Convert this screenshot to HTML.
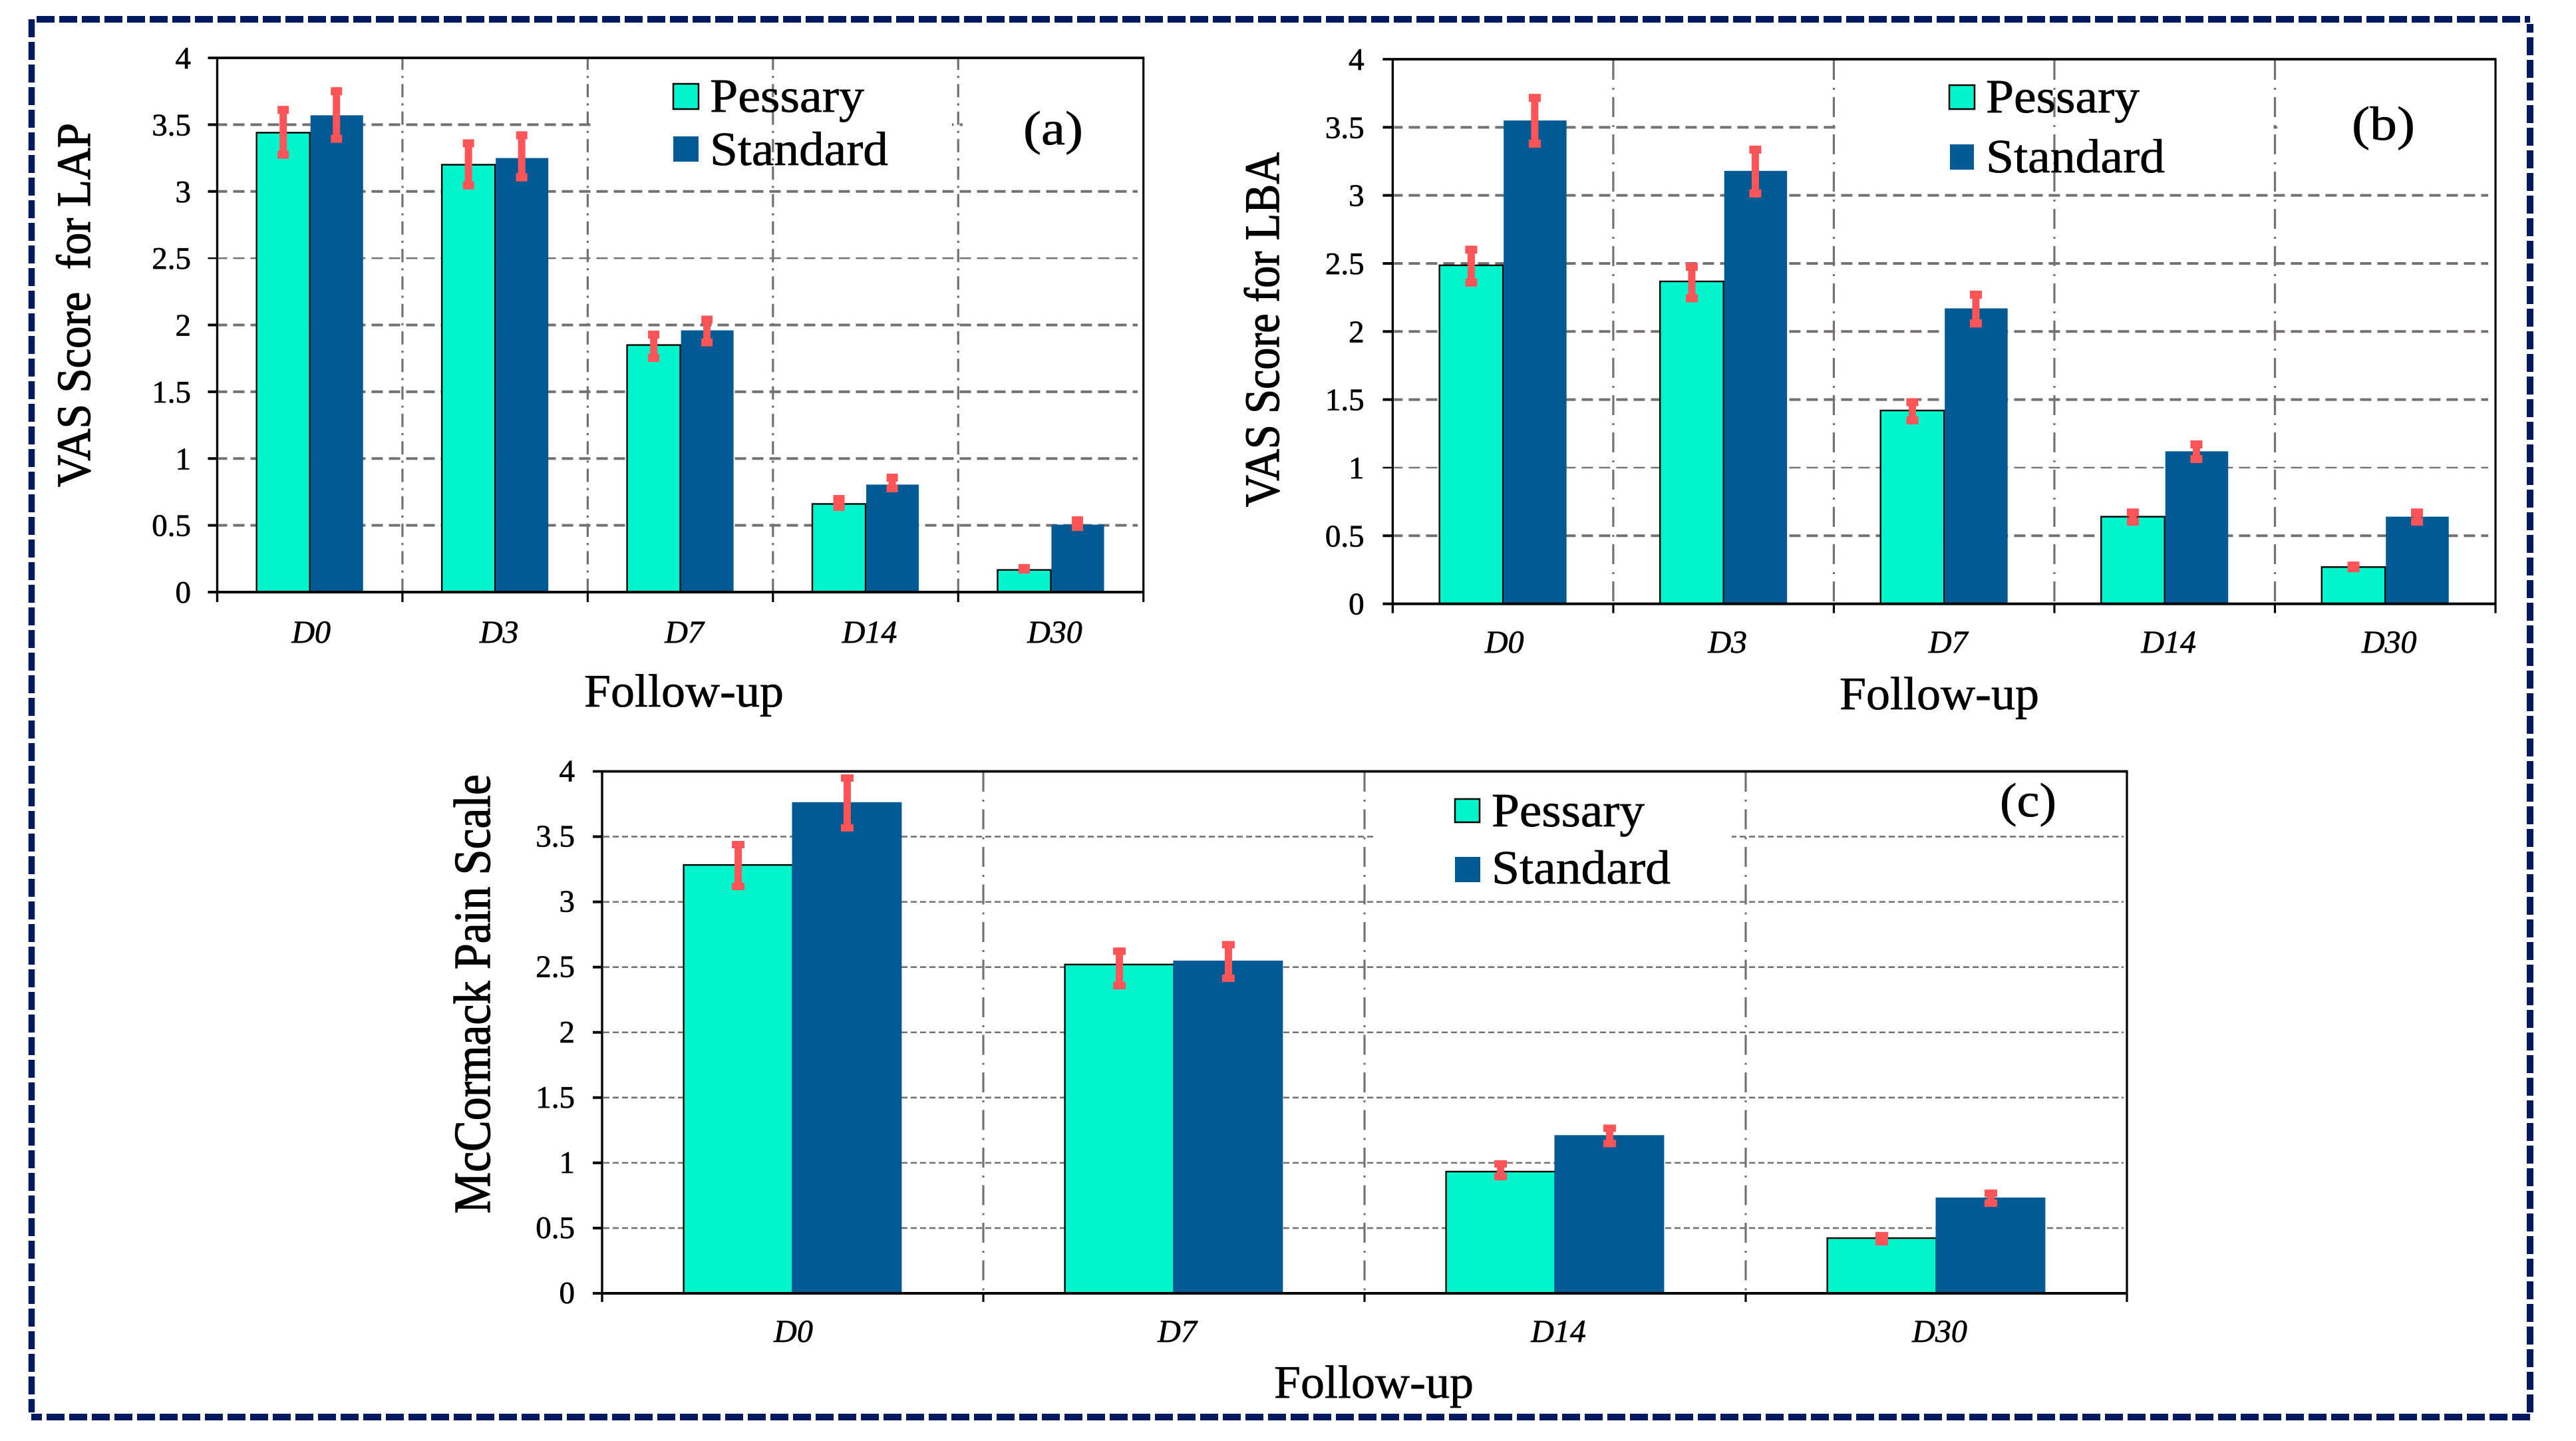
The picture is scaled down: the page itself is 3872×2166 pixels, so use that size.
<!DOCTYPE html>
<html lang="en">
<head>
<meta charset="utf-8">
<title>Pain scores during follow-up</title>
<style>
html,body{margin:0;padding:0;background:#fff;}
svg{display:block;}
text{font-family:"Liberation Serif","DejaVu Serif",serif;fill:#000;stroke:#000;stroke-width:0.7px;text-rendering:geometricPrecision;}
text.heavy{stroke-width:1.3px;}
</style>
</head>
<body>
<svg id="figure" xmlns="http://www.w3.org/2000/svg" width="3872" height="2166" viewBox="0 0 3872 2166">
  <rect x="0" y="0" width="3872" height="2166" fill="#fff"/>
  <g stroke="#00195F" fill="none">
    <line x1="55" y1="29" x2="3803" y2="29" stroke-width="10" stroke-dasharray="27 7"/>
    <line x1="47.5" y1="29" x2="47.5" y2="2123" stroke-width="9.5" stroke-dasharray="27 7"/>
    <line x1="3803" y1="2123" x2="3803" y2="36" stroke-width="10" stroke-dasharray="27 7"/>
    <line x1="3803" y1="2130" x2="47" y2="2130" stroke-width="10" stroke-dasharray="27 7"/>
  </g>

  <g id="chart-a">
    <g id="marks-a"></g>
    <text class="heavy" transform="translate(135,732) rotate(-90)" font-size="72" textLength="547" lengthAdjust="spacingAndGlyphs" xml:space="preserve">VAS Score  for LAP</text>
    <text x="878" y="1062" font-size="70" textLength="300" lengthAdjust="spacingAndGlyphs">Follow-up</text>
    <g>
      <rect x="1012" y="126" width="38" height="38" fill="#00F5CC" stroke="#000" stroke-width="2.5"/>
      <text x="1067" y="168" font-size="72" textLength="232" lengthAdjust="spacingAndGlyphs">Pessary</text>
      <rect x="1012" y="205" width="38" height="38" fill="#005A94"/>
      <text x="1067" y="248" font-size="72" textLength="268" lengthAdjust="spacingAndGlyphs">Standard</text>
    </g>
    <text x="1538" y="217" font-size="72" textLength="90" lengthAdjust="spacingAndGlyphs">(a)</text>
  </g>

  <g id="chart-b">
    <g id="marks-b"></g>
    <text class="heavy" transform="translate(1922,762) rotate(-90)" font-size="74" textLength="533" lengthAdjust="spacingAndGlyphs">VAS Score for LBA</text>
    <text x="2765" y="1066" font-size="70" textLength="300" lengthAdjust="spacingAndGlyphs">Follow-up</text>
    <g>
      <rect x="2930" y="128" width="38" height="36" fill="#00F5CC" stroke="#000" stroke-width="2.5"/>
      <text x="2985" y="169" font-size="72" textLength="231" lengthAdjust="spacingAndGlyphs">Pessary</text>
      <rect x="2931" y="217" width="36" height="38" fill="#005A94"/>
      <text x="2985" y="259" font-size="72" textLength="269" lengthAdjust="spacingAndGlyphs">Standard</text>
    </g>
    <text x="3535" y="210" font-size="72" textLength="95" lengthAdjust="spacingAndGlyphs">(b)</text>
  </g>

  <g id="chart-c">
    <g id="marks-c"></g>
    <text class="heavy" transform="translate(736,1824) rotate(-90)" font-size="78" textLength="660" lengthAdjust="spacingAndGlyphs">McCormack Pain Scale</text>
    <text x="1915" y="2101" font-size="70" textLength="300" lengthAdjust="spacingAndGlyphs">Follow-up</text>
    <g>
      <rect x="2187" y="1201" width="37" height="35" fill="#00F5CC" stroke="#000" stroke-width="2.5"/>
      <text x="2242" y="1242" font-size="72" textLength="230" lengthAdjust="spacingAndGlyphs">Pessary</text>
      <rect x="2187" y="1288" width="38" height="38" fill="#005A94"/>
      <text x="2242" y="1328" font-size="72" textLength="269" lengthAdjust="spacingAndGlyphs">Standard</text>
    </g>
    <text x="3006" y="1227" font-size="72" textLength="85" lengthAdjust="spacingAndGlyphs">(c)</text>
  </g>
</svg>

<script>
// Shared y axis
const yTickValues = [0, 0.5, 1, 1.5, 2, 2.5, 3, 3.5, 4];
const yTickLabels = ['0', '0.5', '1', '1.5', '2', '2.5', '3', '3.5', '4'];

// Chart (a) VAS score for LAP
const categoriesA = ['D0', 'D3', 'D7', 'D14', 'D30'];
const pessaryA = [3.44, 3.2, 1.85, 0.66, 0.166];
const standardA = [3.57, 3.25, 1.96, 0.805, 0.505];
const pessaryLowA = [3.245, 3.015, 1.724, 0.608, 0.139];
const pessaryHighA = [3.64, 3.39, 1.958, 0.727, 0.21];
const standardLowA = [3.364, 3.076, 1.84, 0.747, 0.458];
const standardHighA = [3.78, 3.45, 2.07, 0.887, 0.567];

// Chart (b) VAS score for LBA
const categoriesB = ['D0', 'D3', 'D7', 'D14', 'D30'];
const pessaryB = [2.486, 2.368, 1.42, 0.64, 0.27];
const standardB = [3.55, 3.18, 2.17, 1.12, 0.64];
const pessaryLowB = [2.33, 2.215, 1.318, 0.574, 0.232];
const pessaryHighB = [2.63, 2.505, 1.51, 0.7, 0.31];
const standardLowB = [3.35, 2.985, 2.03, 1.034, 0.574];
const standardHighB = [3.745, 3.365, 2.3, 1.2, 0.7];

// Chart (c) McCormack pain scale
const categoriesC = ['D0', 'D7', 'D14', 'D30'];
const pessaryC = [3.283, 2.52, 0.933, 0.423];
const standardC = [3.764, 2.55, 1.212, 0.734];
const pessaryLowC = [3.09, 2.33, 0.866, 0.367];
const pessaryHighC = [3.467, 2.65, 1.02, 0.47];
const standardLowC = [3.54, 2.387, 1.12, 0.663];
const standardHighC = [3.977, 2.7, 1.293, 0.795];

const SVG_NS = 'http://www.w3.org/2000/svg';
const PESSARY_COLOR = '#00F5CC';
const STANDARD_COLOR = '#005A94';
const ERROR_COLOR = '#FF5558';
const GRID_COLOR = '#767171';

function make(parent, tag, attrs) {
  const el = document.createElementNS(SVG_NS, tag);
  for (const k in attrs) el.setAttribute(k, attrs[k]);
  parent.appendChild(el);
  return el;
}

function drawChart(cfg) {
  const g = document.getElementById('marks-' + cfg.id);
  const band = (cfg.right - cfg.left) / cfg.categories.length;
  const barW = band * cfg.barFrac;
  const unit = (cfg.bottom - cfg.top) / 4;
  const xCenter = function (i) { return cfg.left + band * (i + 0.5); };
  const yScale = function (v) { return cfg.bottom - v * unit; };

  // horizontal grid lines
  yTickValues.forEach(function (v) {
    if (v === 0 || v === 4) return;
    const thin = cfg.thinRows.indexOf(v) >= 0;
    const el = make(g, 'line', {
      x1: cfg.left + 2, x2: cfg.gridEnd, y1: yScale(v), y2: yScale(v),
      stroke: GRID_COLOR,
      'stroke-width': thin ? cfg.gridThin : cfg.gridThick,
      'stroke-dasharray': cfg.gridDash,
      'stroke-dashoffset': cfg.gridPhase
    });
    
    
  });

  // white legend backing that interrupts one grid row
  cfg.masks.forEach(function (m) {
    const el = make(g, 'rect', {
      x: m.x1, width: m.x2 - m.x1, y: yScale(3.5) - 5, height: 10, fill: '#fff'
    });
    
    
  });

  // vertical dash-dot separators
  for (let i = 1; i < cfg.categories.length; i++) {
    const x = cfg.left + band * i;
    const el = make(g, 'line', {
      x1: x, x2: x, y1: cfg.vStart, y2: cfg.bottom,
      stroke: GRID_COLOR, 'stroke-width': 3.2,
      'stroke-dasharray': cfg.vDash
    });
    
    
  }

  // bars
  cfg.categories.forEach(function (c, i) {
    const cx = xCenter(i);
    const pessaryTop = yScale(cfg.pessary[i]);
    const standardTop = yScale(cfg.standard[i]);
    const pBar = make(g, 'rect', {
      x: cx - barW, y: pessaryTop, width: barW, height: cfg.bottom - pessaryTop,
      fill: PESSARY_COLOR, stroke: '#000', 'stroke-width': 2.4
    });
    
    
    const sBar = make(g, 'rect', {
      x: cx + cfg.stdInset, y: standardTop, width: barW - cfg.stdInset, height: cfg.bottom - standardTop,
      fill: STANDARD_COLOR
    });
    
    
  });

  // axes
  const axisAttrs = [
    { n: 'y-axis-line', x1: cfg.left, x2: cfg.left, y1: cfg.top, y2: cfg.bottom + cfg.tickDown, w: 3.4 },
    { n: 'right-axis-line', x1: cfg.right, x2: cfg.right, y1: cfg.top, y2: cfg.bottom + cfg.tickDown, w: 3.2 },
    { n: 'x-axis-line', x1: cfg.left - cfg.tickLeft, x2: cfg.right + 1.5, y1: cfg.bottom, y2: cfg.bottom, w: 4 },
    { n: 'top-axis-line', x1: cfg.left - cfg.tickLeft, x2: cfg.right + 1.5, y1: cfg.top, y2: cfg.top, w: 3.8 }
  ];
  axisAttrs.forEach(function (a) {
    const el = make(g, 'line', { x1: a.x1, x2: a.x2, y1: a.y1, y2: a.y2, stroke: '#000', 'stroke-width': a.w });
    
    
  });

  // x ticks
  for (let i = 1; i < cfg.categories.length; i++) {
    const x = cfg.left + band * i;
    const el = make(g, 'line', { x1: x, x2: x, y1: cfg.bottom, y2: cfg.bottom + cfg.tickDown, stroke: '#000', 'stroke-width': 3.2 });
    
    
  }

  // error bars
  function errorBar(x, lo, hi, name) {
    const yHi = yScale(hi), yLo = yScale(lo);
    const group = make(g, 'g', { fill: ERROR_COLOR });
    
    
    make(group, 'rect', { x: x - cfg.stem / 2, y: yHi, width: cfg.stem, height: yLo - yHi });
    make(group, 'rect', { x: x - cfg.cap / 2, y: yHi, width: cfg.cap, height: cfg.capH });
    make(group, 'rect', { x: x - cfg.cap / 2, y: yLo - cfg.capH, width: cfg.cap, height: cfg.capH });
  }
  cfg.categories.forEach(function (c, i) {
    const cx = xCenter(i);
    errorBar(cx - barW / 2, cfg.pessaryLow[i], cfg.pessaryHigh[i], 'error-bar-pessary-' + c.toLowerCase());
    errorBar(cx + barW / 2, cfg.standardLow[i], cfg.standardHigh[i], 'error-bar-standard-' + c.toLowerCase());
  });

  // y ticks and labels
  yTickValues.forEach(function (v, i) {
    const thin = cfg.thinRows.indexOf(v) >= 0;
    if (v !== 4 && v !== 0) {
      const t = make(g, 'line', {
        x1: cfg.left - cfg.tickLeft, x2: cfg.left, y1: yScale(v), y2: yScale(v),
        stroke: '#000', 'stroke-width': thin ? 2.4 : 4
      });
      
      
    }
    const label = make(g, 'text', {
      x: cfg.labelRight, y: yScale(v) + cfg.labelDrop, 'font-size': 47, 'text-anchor': 'end'
    });
    
    
    label.textContent = yTickLabels[i];
  });

  // category labels
  cfg.categories.forEach(function (c, i) {
    const label = make(g, 'text', {
      x: xCenter(i) + cfg.catOffset - (i === 0 ? 4 : 0), y: cfg.catBaseline,
      'font-size': 48, 'font-style': 'italic', 'text-anchor': 'middle'
    });
    
    
    label.textContent = c;
  });
}

drawChart({
  id: 'a', categories: categoriesA,
  pessary: pessaryA, standard: standardA,
  pessaryLow: pessaryLowA, pessaryHigh: pessaryHighA,
  standardLow: standardLowA, standardHigh: standardHighA,
  left: 326.5, right: 1718.7, top: 87, bottom: 890,
  barFrac: 0.2874, stdInset: 1,
  gridEnd: 1710, gridThick: 4, gridThin: 2.4, gridDash: '17 9', gridPhase: 4,
  thinRows: [2.5],
  masks: [{ x1: 895, x2: 1431 }, { x1: 1447, x2: 1716 }],
  vStart: 85, vDash: '20 9 3.3 9',
  tickDown: 15, tickLeft: 14,
  labelRight: 287, labelDrop: 16,
  catOffset: 6, catBaseline: 966,
  stem: 11, cap: 17, capH: 12
});

drawChart({
  id: 'b', categories: categoriesB,
  pessary: pessaryB, standard: standardB,
  pessaryLow: pessaryLowB, pessaryHigh: pessaryHighB,
  standardLow: standardLowB, standardHigh: standardHighB,
  left: 2093.4, right: 3751, top: 89, bottom: 907.6,
  barFrac: 0.288, stdInset: 1,
  gridEnd: 3740, gridThick: 4, gridThin: 2.4, gridDash: '17 9', gridPhase: 4,
  thinRows: [1],
  masks: [{ x1: 2765, x2: 3409 }, { x1: 3423, x2: 3749 }],
  vStart: 90, vDash: '30 12 3 11',
  tickDown: 14, tickLeft: 15,
  labelRight: 2050.6, labelDrop: 16,
  catOffset: 6, catBaseline: 981,
  stem: 11, cap: 18, capH: 12
});

drawChart({
  id: 'c', categories: categoriesC,
  pessary: pessaryC, standard: standardC,
  pessaryLow: pessaryLowC, pessaryHigh: pessaryHighC,
  standardLow: standardLowC, standardHigh: standardHighC,
  left: 905, right: 3197, top: 1159.5, bottom: 1944,
  barFrac: 0.286, stdInset: -1,
  gridEnd: 3192, gridThick: 2.6, gridThin: 2.6, gridDash: '9 5', gridPhase: 0,
  thinRows: [],
  masks: [{ x1: 2069, x2: 2603 }],
  vStart: 1160, vDash: '30 12 3 11.5',
  tickDown: 13, tickLeft: 14,
  labelRight: 864, labelDrop: 15,
  catOffset: 5, catBaseline: 2017,
  stem: 11, cap: 19, capH: 11
});
</script>
</body>
</html>
